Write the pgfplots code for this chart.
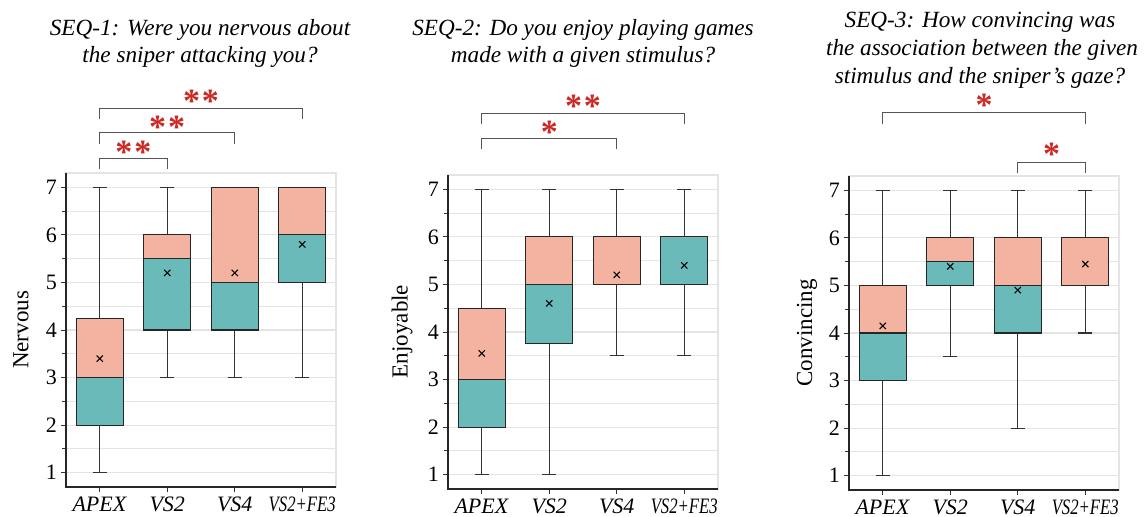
\documentclass[border=0pt]{standalone}
\usepackage{fontspec}
\setmainfont{Liberation Serif}
\usepackage{graphicx}
\usepackage{pgfplots}
\pgfplotsset{compat=1.18}
\usepgfplotslibrary{statistics}

\definecolor{tealbox}{RGB}{106,186,186}
\definecolor{salmonbox}{RGB}{244,178,160}
\definecolor{starred}{RGB}{204,40,35}
\definecolor{gridgray}{RGB}{228,228,228}
\definecolor{brk}{RGB}{85,85,85}

\newcommand\titlefont{\fontsize{11.6}{13.5}\selectfont\itshape}
\newcommand\starfont{\fontsize{17}{17}\selectfont\bfseries}

\pgfplotsset{
  seqaxis/.style={
    scale only axis, width=135pt, height=157pt,
    xmin=-0.5, xmax=3.5, ymin=0.7, ymax=7.3,
    xtick={0,1,2,3},
    xticklabels={\textit{APEX},\textit{VS2},\textit{VS4},\scalebox{0.76}[1]{\textit{VS2+FE3}}},
    ytick={1,2,3,4,5,6,7},
    minor ytick={1.5,2.5,3.5,4.5,5.5,6.5},
    ymajorgrids, yminorgrids,
    major grid style={gridgray, line width=0.6pt},
    minor grid style={gridgray, line width=0.5pt},
    axis line style={gridgray, line width=0.6pt},
    tick pos=left, tick align=outside,
    major tick length=2.5pt, minor tick length=2pt,
    tick style={black!80, line width=0.5pt},
    ticklabel style={font=\fontsize{11}{13}\selectfont},
    xticklabel style={yshift=1pt},
    yticklabel style={xshift=1.5pt},
    /pgf/number format/assume math mode=true,
    clip=false,
    boxplot/draw direction=y,
    boxplot/box extend=0.7, boxplot/whisker extend=0.21,
    boxplot/every whisker/.style={black!80, line width=0.55pt},
  },
}

% position, lower whisker, Q1, median, Q3, upper whisker
\newcommand\twobox[6]{%
  \addplot[boxplot prepared={draw position=#1, lower whisker=#2, lower quartile=#3, median=#4, upper quartile=#4, upper whisker=#4},
    fill=tealbox, draw=black!85, line width=0.6pt] coordinates {};
  \addplot[boxplot prepared={draw position=#1, lower whisker=#4, lower quartile=#4, median=#4, upper quartile=#5, upper whisker=#6},
    fill=salmonbox, draw=black!85, line width=0.6pt] coordinates {};
}

\newcommand\bracket[4]{% x1, x2, top, bottom
  \draw[brk, line width=0.6pt] (axis cs:#1,#4) -- (axis cs:#1,#3) -- (axis cs:#2,#3) -- (axis cs:#2,#4);
}

\begin{document}
\begin{tikzpicture}
\path[use as bounding box] (0,0) rectangle (572.5pt,-258.5pt);

% ---------------- Panel 1 ----------------
\begin{axis}[seqaxis, at={(33pt,-243.5pt)}, anchor=south west]
  \twobox{0}{1}{2}{3}{4.25}{7}
  \twobox{1}{3}{4}{5.5}{6}{7}
  \twobox{2}{3}{4}{5}{7}{7}
  \twobox{3}{3}{5}{6}{7}{7}
  \addplot[only marks, mark=x, mark size=2.2pt, black, line width=0.55pt] coordinates {(0,3.4) (1,5.2) (2,5.2) (3,5.8)};
  \draw[black!85, line width=0.6pt] (rel axis cs:0,1) -- (rel axis cs:0,0) -- (rel axis cs:1,0);
  \bracket{0}{1}{7.61}{7.38}
  \bracket{0}{2}{8.15}{7.90}
  \bracket{0}{3}{8.66}{8.43}
  \node[starred, font=\starfont] at (axis cs:0.5,7.74) {*\kern1pt*};
  \node[starred, font=\starfont] at (axis cs:1.0,8.27) {*\kern1pt*};
  \node[starred, font=\starfont] at (axis cs:1.5,8.81) {*\kern1pt*};
\end{axis}

% ---------------- Panel 2 ----------------
\begin{axis}[seqaxis, at={(224pt,-244.5pt)}, anchor=south west]
  \twobox{0}{1}{2}{3}{4.5}{7}
  \twobox{1}{1}{3.75}{5}{6}{7}
  \twobox{2}{3.5}{5}{5}{6}{7}
  \twobox{3}{3.5}{5}{6}{6}{7}
  \addplot[only marks, mark=x, mark size=2.2pt, black, line width=0.55pt] coordinates {(0,3.55) (1,4.6) (2,5.2) (3,5.4)};
  \draw[black!85, line width=0.6pt] (rel axis cs:0,1) -- (rel axis cs:0,0) -- (rel axis cs:1,0);
  \bracket{0}{2}{8.07}{7.84}
  \bracket{0}{3}{8.60}{8.37}
  \node[starred, font=\starfont] at (axis cs:1.0,8.20) {*};
  \node[starred, font=\starfont] at (axis cs:1.5,8.75) {*\kern1pt*};
\end{axis}

% ---------------- Panel 3 ----------------
\begin{axis}[seqaxis, at={(424.5pt,-245pt)}, anchor=south west]
  \twobox{0}{1}{3}{4}{5}{7}
  \twobox{1}{3.5}{5}{5.5}{6}{7}
  \twobox{2}{2}{4}{5}{6}{7}
  \twobox{3}{4}{5}{5}{6}{7}
  \addplot[only marks, mark=x, mark size=2.2pt, black, line width=0.55pt] coordinates {(0,4.15) (1,5.4) (2,4.9) (3,5.45)};
  \draw[black!85, line width=0.6pt] (rel axis cs:0,1) -- (rel axis cs:0,0) -- (rel axis cs:1,0);
  \bracket{2}{3}{7.59}{7.36}
  \bracket{0}{3}{8.64}{8.40}
  \node[starred, font=\starfont] at (axis cs:2.5,7.76) {*};
  \node[starred, font=\starfont] at (axis cs:1.5,8.78) {*};
\end{axis}

% y labels
\node[rotate=90, font=\fontsize{11.5}{13}\selectfont] at (10.5pt,-165pt) {Nervous};
\node[rotate=90, font=\fontsize{11.5}{13}\selectfont] at (201pt,-165.75pt) {Enjoyable};
\node[rotate=90, font=\fontsize{11.5}{13}\selectfont] at (403.5pt,-166.5pt) {Convincing};

% titles
\node[anchor=base, font=\titlefont] at (100pt,-18pt) {SEQ-1: Were you nervous about};
\node[anchor=base, font=\titlefont] at (100pt,-31.5pt) {the sniper attacking you?};
\node[anchor=base, font=\titlefont] at (291.5pt,-18pt) {SEQ-2: Do you enjoy playing games};
\node[anchor=base, font=\titlefont] at (291.5pt,-31.5pt) {made with a given stimulus?};
\node[anchor=base, font=\titlefont] at (490pt,-14pt) {SEQ-3: How convincing was};
\node[anchor=base, font=\titlefont] at (491pt,-28pt) {the association between the given};
\node[anchor=base, font=\titlefont] at (490pt,-42pt) {stimulus and the sniper’s gaze?};
\end{tikzpicture}
\end{document}
